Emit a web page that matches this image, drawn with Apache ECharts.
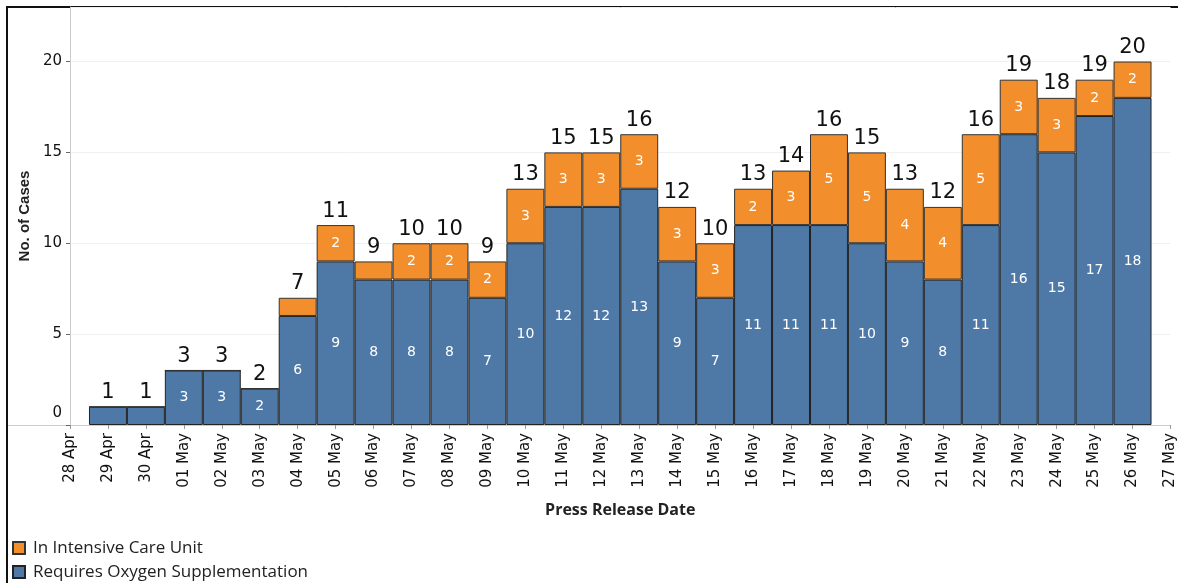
<!DOCTYPE html>
<html>
<head>
<meta charset="utf-8">
<script src="https://cdn.jsdelivr.net/npm/echarts@6/dist/echarts.min.js"></script>
<style>
  html, body { margin: 0; padding: 0; background: #fff; }
  #chart { width: 1178px; height: 583px; }
</style>
</head>
<body>
<div id="chart"></div>
<script>
// press release dates (28 Apr and 27 May are axis ends, no bars)
var dates = ['28 Apr', '29 Apr', '30 Apr', '01 May', '02 May', '03 May', '04 May', '05 May', '06 May', '07 May',
  '08 May', '09 May', '10 May', '11 May', '12 May', '13 May', '14 May', '15 May', '16 May', '17 May',
  '18 May', '19 May', '20 May', '21 May', '22 May', '23 May', '24 May', '25 May', '26 May', '27 May'];
var oxygen = [null, 1, 1, 3, 3, 2, 6, 9, 8, 8, 8, 7, 10, 12, 12, 13, 9, 7, 11, 11, 11, 10, 9, 8, 11, 16, 15, 17, 18, null];
var icu = [null, 0, 0, 0, 0, 0, 1, 2, 1, 2, 2, 2, 3, 3, 3, 3, 3, 3, 2, 3, 5, 5, 4, 4, 5, 3, 3, 2, 2, null];
var yTicks = [0, 5, 10, 15, 20];

var totals = dates.map(function (d, i) {
  return oxygen[i] == null ? null : oxygen[i] + icu[i];
});

var fontMain = 'DejaVu Sans';

var innerLabel = {
  show: true,
  position: 'inside',
  color: '#fff',
  fontSize: 14,
  fontFamily: fontMain,
  formatter: function (p) {
    return p.value >= 2 ? p.value : ''; // too small to label
  }
};

var chart = echarts.init(document.getElementById('chart'));
chart.setOption({
  animation: false,
  grid: { left: 70, right: -5, top: 7, bottom: 158, containLabel: false },
  legend: {
    data: ['In Intensive Care Unit', 'Requires Oxygen Supplementation'],
    orient: 'vertical',
    left: 12,
    top: 539,
    padding: 0,
    icon: 'rect',
    itemWidth: 12,
    itemHeight: 12,
    itemGap: 6,
    textStyle: { fontSize: 17, lineHeight: 18, color: '#222', fontFamily: 'Open Sans', padding: [0, 0, 0, 3] }
  },
  xAxis: {
    type: 'category',
    data: dates,
    boundaryGap: false,
    name: 'Press Release Date',
    nameLocation: 'middle',
    nameGap: 77,
    nameTextStyle: { fontSize: 16, fontWeight: 'bold', color: '#222', fontFamily: 'Open Sans' },
    axisLine: { lineStyle: { color: '#ccc' } },
    axisTick: { show: true, length: 4, lineStyle: { color: '#999' }, interval: 0 },
    axisLabel: { rotate: 90, interval: 0, fontSize: 15, color: '#111', margin: 8, fontFamily: fontMain }
  },
  yAxis: {
    type: 'value',
    min: 0,
    max: 23,
    interval: 5,
    name: 'No. of Cases',
    nameLocation: 'middle',
    nameGap: 37,
    nameTextStyle: { fontSize: 15, fontWeight: 'bold', color: '#222', fontFamily: 'Liberation Sans' },
    axisLine: { show: true, lineStyle: { color: '#ccc' } },
    axisTick: { show: true, length: 4, lineStyle: { color: '#666' } },
    splitLine: { lineStyle: { color: '#f0f0f0' } },
    axisLabel: {
      showMaxLabel: false,
      fontSize: 15,
      color: '#111',
      margin: 8,
      fontFamily: fontMain,
      formatter: function (v) {
        if (yTicks.indexOf(v) < 0) return '';
        return v === 0 ? '{z|0}' : String(v);
      },
      rich: { z: { fontSize: 15, color: '#111', fontFamily: fontMain, padding: [0, 0, 24, 0] } }
    }
  },
  series: [
    {
      name: 'Requires Oxygen Supplementation',
      type: 'bar',
      stack: 'cases',
      barWidth: '100%',
      data: oxygen,
      itemStyle: { color: '#4E79A7', borderColor: '#222', borderWidth: 1 },
      label: innerLabel
    },
    {
      name: 'In Intensive Care Unit',
      type: 'bar',
      stack: 'cases',
      barWidth: '100%',
      data: icu,
      itemStyle: { color: '#F28E2B', borderColor: '#333', borderWidth: 1 },
      label: innerLabel
    },
    {
      name: 'total',
      type: 'line',
      data: totals,
      symbol: 'circle',
      symbolSize: 1,
      itemStyle: { color: 'rgba(0,0,0,0)' },
      lineStyle: { width: 0, opacity: 0 },
      silent: true,
      label: {
        show: true,
        position: 'top',
        distance: 3,
        color: '#111',
        fontSize: 21,
        fontFamily: fontMain
      }
    }
  ],
  graphic: [
    // worksheet frame
    { type: 'line', shape: { x1: 7, y1: 6, x2: 7, y2: 583 }, style: { stroke: '#111', lineWidth: 2 } },
    { type: 'line', shape: { x1: 6, y1: 7, x2: 1178, y2: 7 }, style: { stroke: '#111', lineWidth: 2 } },
    { type: 'line', shape: { x1: 8, y1: 425.5, x2: 70, y2: 425.5 }, style: { stroke: '#ccc', lineWidth: 1 } }
  ]
});
</script>
</body>
</html>
